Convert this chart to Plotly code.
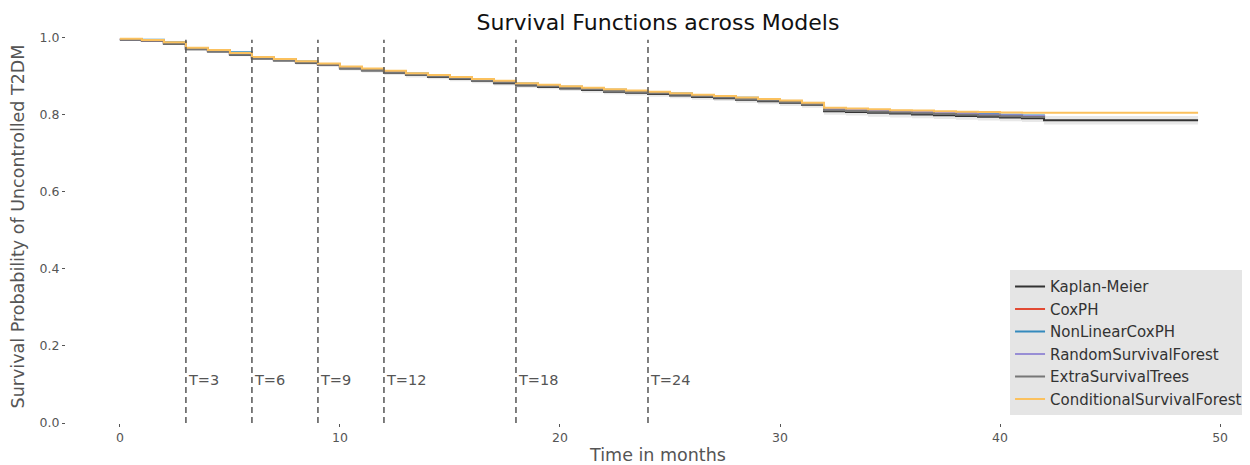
import plotly.graph_objects as go

# step times (months) and survival estimates
times = [0, 1, 2, 3, 4, 5, 6, 7, 8, 9, 10, 11, 12, 13, 14, 15, 16, 17, 18, 19, 20,
         21, 22, 23, 24, 25, 26, 27, 28, 29, 30, 31, 32, 33, 34, 35, 36, 37, 38,
         39, 40, 41, 42, 49]

km = [0.995, 0.992, 0.984, 0.970, 0.964, 0.956, 0.946, 0.941, 0.935, 0.929, 0.920,
      0.915, 0.909, 0.903, 0.898, 0.893, 0.888, 0.882, 0.876, 0.872, 0.868, 0.864,
      0.860, 0.857, 0.854, 0.850, 0.846, 0.843, 0.839, 0.835, 0.831, 0.826, 0.809,
      0.807, 0.805, 0.803, 0.801, 0.799, 0.797, 0.795, 0.793, 0.791, 0.786, 0.786]
km_lower = [0.993, 0.990, 0.981, 0.967, 0.961, 0.952, 0.942, 0.937, 0.930, 0.924,
            0.915, 0.910, 0.903, 0.897, 0.892, 0.887, 0.882, 0.876, 0.870, 0.866,
            0.862, 0.857, 0.853, 0.850, 0.847, 0.843, 0.839, 0.836, 0.831, 0.827,
            0.823, 0.818, 0.800, 0.798, 0.795, 0.793, 0.791, 0.789, 0.787, 0.785,
            0.783, 0.781, 0.775, 0.775]
km_upper = [0.997, 0.994, 0.987, 0.973, 0.967, 0.960, 0.950, 0.945, 0.940, 0.934,
            0.925, 0.920, 0.915, 0.909, 0.904, 0.899, 0.894, 0.888, 0.882, 0.878,
            0.874, 0.871, 0.867, 0.864, 0.861, 0.857, 0.853, 0.850, 0.847, 0.843,
            0.839, 0.834, 0.818, 0.816, 0.815, 0.813, 0.811, 0.809, 0.807, 0.805,
            0.803, 0.801, 0.797, 0.797]

coxph = [0.996, 0.993, 0.986, 0.972, 0.966, 0.958, 0.948, 0.943, 0.937, 0.931, 0.923,
         0.918, 0.912, 0.906, 0.901, 0.896, 0.891, 0.886, 0.880, 0.876, 0.872, 0.868,
         0.864, 0.861, 0.858, 0.854, 0.850, 0.847, 0.843, 0.839, 0.835, 0.829, 0.815,
         0.813, 0.811, 0.809, 0.807, 0.805, 0.803, 0.801, 0.799, 0.797, 0.795]
nonlinear = [0.996, 0.995, 0.988, 0.973, 0.968, 0.962, 0.949, 0.944, 0.938, 0.932,
             0.924, 0.919, 0.913, 0.907, 0.902, 0.897, 0.892, 0.887, 0.881, 0.877,
             0.873, 0.869, 0.865, 0.862, 0.859, 0.855, 0.851, 0.848, 0.844, 0.840,
             0.836, 0.830, 0.816, 0.814, 0.812, 0.810, 0.808, 0.806, 0.804, 0.802,
             0.800, 0.798, 0.796]
rsf = [0.996, 0.993, 0.986, 0.972, 0.966, 0.958, 0.948, 0.943, 0.937, 0.931, 0.923,
       0.918, 0.912, 0.906, 0.901, 0.896, 0.891, 0.886, 0.880, 0.876, 0.872, 0.868,
       0.864, 0.861, 0.858, 0.854, 0.850, 0.847, 0.843, 0.839, 0.835, 0.829, 0.815,
       0.813, 0.811, 0.809, 0.807, 0.805, 0.803, 0.801, 0.799, 0.797, 0.795]
est = [0.995, 0.992, 0.985, 0.971, 0.965, 0.957, 0.947, 0.942, 0.936, 0.930, 0.921,
       0.916, 0.910, 0.904, 0.899, 0.894, 0.889, 0.884, 0.878, 0.874, 0.870, 0.866,
       0.862, 0.859, 0.856, 0.852, 0.848, 0.845, 0.841, 0.837, 0.833, 0.827, 0.812,
       0.810, 0.808, 0.806, 0.804, 0.802, 0.800, 0.798, 0.796, 0.794, 0.792]
csf = [0.997, 0.994, 0.988, 0.974, 0.968, 0.960, 0.950, 0.945, 0.939, 0.933, 0.925,
       0.920, 0.914, 0.908, 0.903, 0.898, 0.893, 0.888, 0.882, 0.878, 0.874, 0.870,
       0.866, 0.863, 0.860, 0.856, 0.852, 0.849, 0.845, 0.841, 0.837, 0.831, 0.818,
       0.816, 0.814, 0.812, 0.811, 0.809, 0.808, 0.807, 0.806, 0.805, 0.805, 0.805]

horizons = [3, 6, 9, 12, 18, 24]
horizon_top = 0.995

fig = go.Figure()

# confidence band of the Kaplan-Meier estimate
fig.add_trace(go.Scatter(x=times, y=km_upper, mode="lines", line_shape="hv",
                         line=dict(width=0), showlegend=False, hoverinfo="skip"))
fig.add_trace(go.Scatter(x=times, y=km_lower, mode="lines", line_shape="hv",
                         line=dict(width=0), fill="tonexty",
                         fillcolor="rgba(150,150,150,0.22)",
                         showlegend=False, hoverinfo="skip"))

series = [
    ("Kaplan-Meier", km, "#333333"),
    ("CoxPH", coxph, "#E24A33"),
    ("NonLinearCoxPH", nonlinear, "#348ABD"),
    ("RandomSurvivalForest", rsf, "#988ED5"),
    ("ExtraSurvivalTrees", est, "#777777"),
    ("ConditionalSurvivalForest", csf, "#FBC15E"),
]
for name, vals, color in series:
    fig.add_trace(go.Scatter(
        x=times[:len(vals)], y=vals, mode="lines", name=name, line_shape="hv",
        line=dict(color=color, width=2), legendgroup=name,
    ))

for t in horizons:
    fig.add_trace(go.Scatter(x=[t, t], y=[0, horizon_top], mode="lines",
                             line=dict(color="#555555", width=1.5, dash="6px,4px"),
                             showlegend=False, hoverinfo="skip"))
    fig.add_annotation(x=t, y=0.112, text=f"T={t}", showarrow=False,
                       xanchor="left", yanchor="middle", xshift=0,
                       font=dict(size=14.5, color="#555555"))

# the page body adds an 8px offset, so the figure is 8px smaller each way
fig.update_layout(
    width=1242, height=457,
    margin=dict(l=58, r=0, t=22, b=42),
    paper_bgcolor="white", plot_bgcolor="white",
    font=dict(family="DejaVu Sans", color="#555555"),
    title=dict(text="Survival Functions across Models", xref="paper", x=0.5,
               xanchor="center", y=0.969, yanchor="middle",
               font=dict(size=22, color="#111111")),
    legend=dict(x=0.9975, xanchor="right", y=0.02, yanchor="bottom",
                bgcolor="#E5E5E5", borderwidth=0, tracegroupgap=0,
                font=dict(size=15, color="#333333")),
    showlegend=True,
)
fig.update_xaxes(range=[-2.45, 51.36], tickvals=[0, 10, 20, 30, 40, 50],
                 automargin=False,
                 showgrid=False, zeroline=False, showline=False,
                 ticks="outside", ticklen=3, tickcolor="#555555",
                 tickfont=dict(size=12.5, color="#555555"),
                 title=dict(text="Time in months", standoff=5,
                            font=dict(size=17.5, color="#555555")))
fig.update_yaxes(range=[0, 1.02], tickvals=[0, 0.2, 0.4, 0.6, 0.8, 1.0],
                 tickformat=".1f", automargin=False,
                 showgrid=False, zeroline=False, showline=False,
                 ticks="outside", ticklen=3, tickcolor="#555555",
                 tickfont=dict(size=12.5, color="#555555"),
                 title=dict(text="Survival Probability of Uncontrolled T2DM",
                            standoff=15, font=dict(size=17.5, color="#555555")))

fig.write_html("out.html")
